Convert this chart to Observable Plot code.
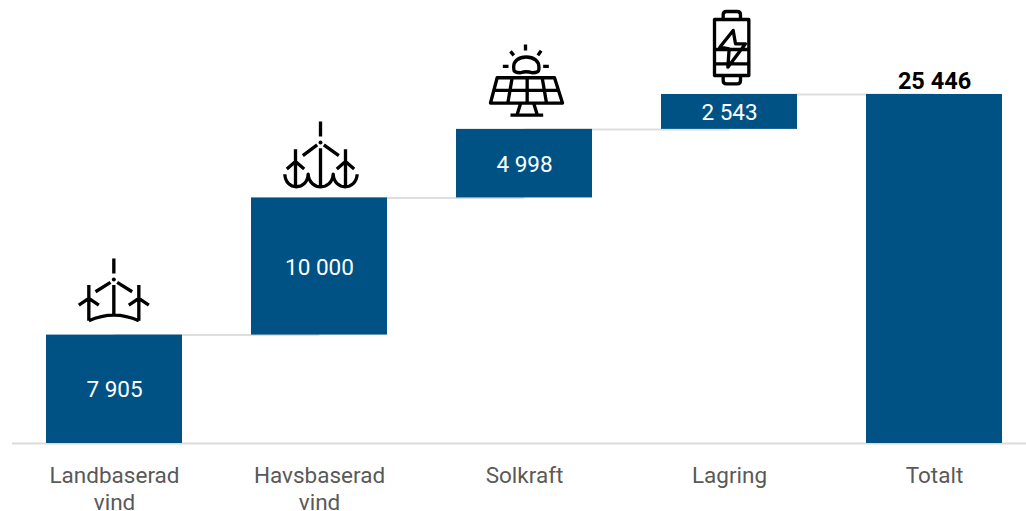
<!DOCTYPE html>
<html><head><meta charset="utf-8">
<script src="https://cdn.jsdelivr.net/npm/d3@7"></script>
<script src="https://cdn.jsdelivr.net/npm/@observablehq/plot@0.6"></script>
<style>html,body{margin:0;padding:0;background:#fff}svg{display:block}</style>
</head><body><div id="chart"></div>
<script>
const categories = ["Landbaserad\nvind", "Havsbaserad\nvind", "Solkraft", "Lagring", "Totalt"];
const starts = [0, 7905, 17905, 22903, 0];
const ends = [7905, 17905, 22903, 25446, 25446];
const labels = ["7 905", "10 000", "4 998", "2 543", "25 446"];
const connectorLevels = [7905, 17905, 22903, 25446];

const wind = `<g transform="translate(0,13.5)"><path d="M160 25V70M150 97L105 125M170 97L215 125M160 105V195M85 105V212M85 145L55 165M85 145L115 165M235 105V212M235 145L205 165M235 145L265 165M85 212Q160 178 235 212"/><circle cx="160" cy="88" r="6" fill="#000" stroke="none"/></g>`;
const offshore = `<g transform="translate(0,19.5)"><path d="M165 20V65M155 90L112 122M175 90L220 122M165 100V215M90 103V215M90 140L64 162M90 140L116 162M240 103V215M240 140L214 162M240 140L266 162M58 178C60 228 125 228 128 178C132 228 200 228 203 178C206 228 272 228 275 178"/><circle cx="165" cy="83" r="6" fill="#000" stroke="none"/></g>`;
const solar = `<g transform="translate(0,1.5)"><path d="M165 12V30M120 33L130 45M212 31L202 45M97 78H114M218 78H235M130 85C122 38 212 38 205 85Q207 97 185 97Q168 91 150 97Q128 97 130 85ZM80 112H252L276 188H60ZM125 112L112 188M170 112V188M215 112L228 188M68 150H268M150 190L140 222M190 190L200 222M120 224H218"/></g>`;
const battery = `<g transform="translate(45,1.5)"><path d="M72 42H175V210H72ZM98 42V28Q98 18 108 18H140Q150 18 150 28V42M98 210V225Q98 235 108 235H140Q150 235 150 225V210M75 132H172M75 175H172M128 75L88 125L116 130L112 185L165 115L135 115Z"/></g>`;
const iconSvgs = [wind, offshore, solar, battery];
const iconSrc = g => "data:image/svg+xml," + encodeURIComponent(
  `<svg xmlns="http://www.w3.org/2000/svg" width="110" height="95" viewBox="0 0 330 285"><g fill="none" stroke="#000" stroke-width="10" stroke-linejoin="round">${g}</g></svg>`);

const rows = categories.map((c, i) => ({c, start: starts[i], end: ends[i], label: labels[i]}));
const links = connectorLevels.map((v, i) => ({from: categories[i], to: categories[i + 1], v}));
const icons = iconSvgs.map((g, i) => ({c: categories[i], v: ends[i], src: iconSrc(g)}));
const lastRow = rows.slice(-1), stepRows = rows.slice(0, -1);

const plot = Plot.plot({
  width: 1026, height: 511,
  marginLeft: 12, marginRight: 0, marginTop: 94, marginBottom: 68,
  style: {fontFamily: "Roboto", background: "#fff"},
  x: {domain: categories, paddingInner: 0.337, paddingOuter: 0.1416, align: 0.586, label: null},
  y: {domain: [0, 25446], axis: null},
  marks: [
    Plot.link(links, {x1: "from", x2: "to", y1: "v", y2: "v", stroke: "#dedede", strokeWidth: 2}),
    Plot.ruleY([0], {stroke: "#dcdcdc", strokeWidth: 2}),
    Plot.barY(rows, {x: "c", y1: "start", y2: "end", fill: "#005284"}),
    Plot.text(stepRows, {x: "c", y: d => (d.start + d.end) / 2, text: "label", fill: "#fff", fontSize: 22.5, dy: 1}),
    Plot.text(lastRow, {x: "c", y: "end", text: "label", fill: "#000", fontSize: 23.5, fontWeight: 700, dy: -13}),
    Plot.image(icons, {x: "c", y: "v", src: "src", width: 110, height: 95, dx: 1, dy: -42}),
    Plot.axisX({tickSize: 0, tickPadding: 20, fontSize: 22.5, fill: "#595959", lineHeight: 1.2, label: null})
  ]
});
document.getElementById("chart").append(plot);
</script></body></html>
